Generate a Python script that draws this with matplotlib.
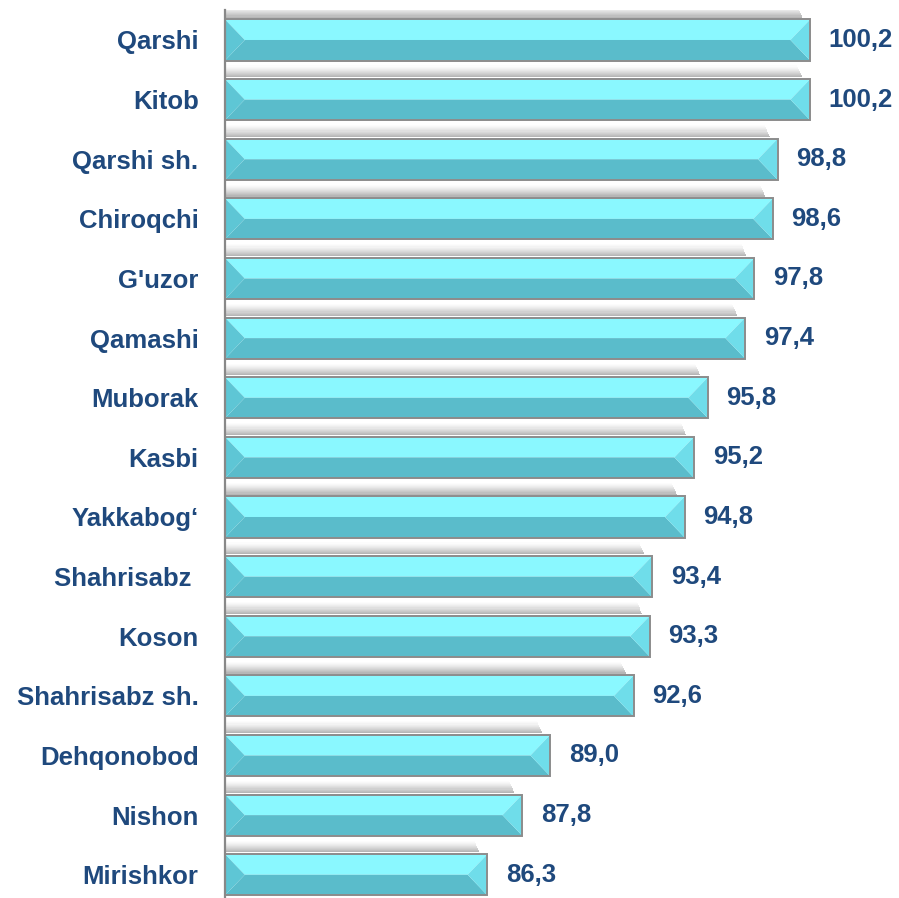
import matplotlib.pyplot as plt
from matplotlib.patches import Polygon, Rectangle

# data
districts = ['Qarshi', 'Kitob', 'Qarshi sh.', 'Chiroqchi', "G'uzor", 'Qamashi',
             'Muborak', 'Kasbi', 'Yakkabog‘', 'Shahrisabz ', 'Koson',
             'Shahrisabz sh.', 'Dehqonobod', 'Nishon', 'Mirishkor']
values = [100.2, 100.2, 98.8, 98.6, 97.8, 97.4, 95.8, 95.2, 94.8, 93.4, 93.3,
          92.6, 89.0, 87.8, 86.3]
value_labels = [f"{v:.1f}".replace('.', ',') for v in values]

TEXT = '#1F497D'
X0 = 75.0

fig = plt.figure(figsize=(8.99, 8.98), dpi=100)
ax = fig.add_axes([225 / 899, 0, 627 / 899, 888 / 898])
ax.set_xlim(X0, 102)
ax.set_ylim(14.39, -0.503)

h = 0.69
bev = 0.85  # bevel width in data units
gap = 0.03  # white gap between shadow and bar
step = 0.018

for i, v in enumerate(values):
    top = i - h / 2
    bot = i + h / 2
    mid = i
    # soft gray shadow above the bar, darker near the bar
    n = 11
    for k in range(n):
        y = top - gap - step * (k + 1)
        a = 0.5 * (1 - k / n) ** 1.4
        ax.add_patch(Rectangle((X0, y), v - X0 - 0.35 - 0.02 * k, step,
                               facecolor='#6e6e6e', alpha=a,
                               edgecolor='none', zorder=1))
    # top face (light)
    ax.add_patch(Polygon([(X0, top), (v, top), (v - bev, mid), (X0 + bev, mid)],
                         closed=True, facecolor='#8AF8FF', edgecolor='none', zorder=2))
    # bottom face (darker)
    ax.add_patch(Polygon([(X0 + bev, mid), (v - bev, mid), (v, bot), (X0, bot)],
                         closed=True, facecolor='#5ABCCB', edgecolor='none', zorder=2))
    # left bevel
    ax.add_patch(Polygon([(X0, top), (X0 + bev, mid), (X0, bot)],
                         closed=True, facecolor='#5EC6D5', edgecolor='none', zorder=2))
    # right bevel
    ax.add_patch(Polygon([(v, top), (v, bot), (v - bev, mid)],
                         closed=True, facecolor='#6FDDEA', edgecolor='none', zorder=2))
    # border
    ax.add_patch(Rectangle((X0, top), v - X0, h, facecolor='none',
                           edgecolor='#8c8c8c', linewidth=1.4, zorder=3))
    ax.text(v + 0.8, i, value_labels[i], ha='left', va='center', fontsize=18.5,
            fontweight='bold', color=TEXT, family='Liberation Sans', clip_on=False)

ax.set_yticks(range(len(districts)))
ax.set_yticklabels(districts, fontsize=18.5, fontweight='bold', color=TEXT,
                   family='Liberation Sans')
ax.tick_params(axis='y', length=0, pad=19)
ax.set_xticks([])
for s in ['top', 'right', 'bottom']:
    ax.spines[s].set_visible(False)
ax.spines['left'].set_color('#888888')
ax.spines['left'].set_linewidth(1.6)
ax.spines['left'].set_zorder(4)

fig.savefig('out.png', dpi=100)
